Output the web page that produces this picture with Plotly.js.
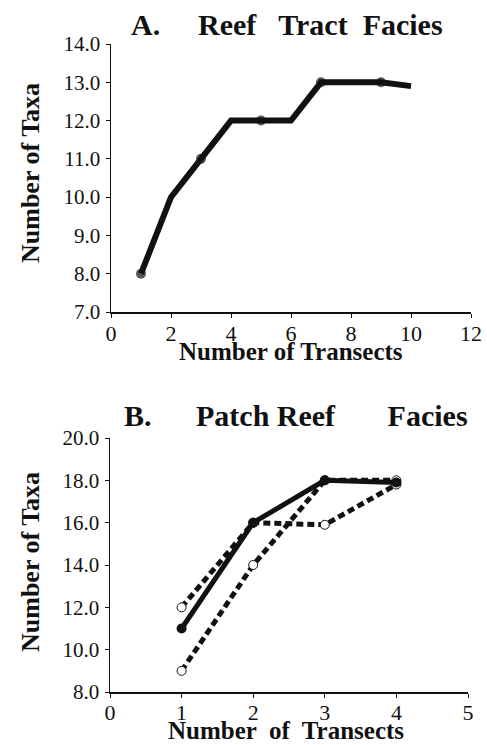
<!DOCTYPE html>
<html>
<head>
<meta charset="utf-8">
<script src="https://cdn.plot.ly/plotly-3.0.1.min.js"></script>
<style>
html,body{margin:0;padding:0;background:#fff;}
#chart{width:487px;height:745px;}
#chart svg text, #chart svg tspan{font-family:"Liberation Serif" !important;}
</style>
</head>
<body>
<div id="chart"></div>
<script>
// ---- Panel A: Reef Tract Facies ----
const reefTransects = [1, 2, 3, 4, 5, 6, 7, 8, 9, 10];
const reefTaxa      = [8, 10, 11, 12, 12, 12, 13, 13, 13, 12.9];

// ---- Panel B: Patch Reef Facies ----
const patchTransects = [1, 2, 3, 4];
const patchSolid     = [11, 16, 18, 17.9];
const patchDashUpper = [12, 16, 15.9, 17.8];
const patchDashLower = [9, 14, 18, 18];

const titleA = ["A.", "Reef   Tract  Facies"];
const titleB = ["B.", "Patch Reef       Facies"];
const yTitle = "Number of Taxa";
const xTitleA = "Number of Transects";
const xTitleB = "Number  of  Transects";

const W = 487, H = 745;
const px = v => v / W;
const py = v => 1 - v / H;
const ink = "#111";
const serif = "Liberation Serif";

const traces = [
  {
    x: reefTransects, y: reefTaxa, xaxis: "x", yaxis: "y",
    mode: "lines+markers",
    line: {color: ink, width: 6},
    marker: {color: ink, size: reefTransects.map((v, i) => (i % 2 === 0 ? 10 : 0)), line: {width: 0}},
    hoverinfo: "skip"
  },
  {
    x: patchTransects, y: patchDashUpper, xaxis: "x2", yaxis: "y2",
    mode: "lines+markers",
    line: {color: ink, width: 5, dash: "7px,4px"},
    marker: {color: "#fff", size: 9, line: {color: ink, width: 1}},
    hoverinfo: "skip"
  },
  {
    x: patchTransects, y: patchDashLower, xaxis: "x2", yaxis: "y2",
    mode: "lines+markers",
    line: {color: ink, width: 5, dash: "7px,4px"},
    marker: {color: "#fff", size: 9, line: {color: ink, width: 1}},
    hoverinfo: "skip"
  },
  {
    x: patchTransects, y: patchSolid, xaxis: "x2", yaxis: "y2",
    mode: "lines+markers",
    line: {color: ink, width: 5},
    marker: {color: ink, size: 10, line: {width: 0}},
    hoverinfo: "skip"
  }
];

const axisBase = {
  showgrid: false, zeroline: false, showline: true,
  linecolor: ink, linewidth: 1.5,
  ticks: "outside", ticklen: 4, tickwidth: 1, tickcolor: ink,
  fixedrange: true
};

const layout = {
  width: W, height: H,
  margin: {l: 0, r: 0, t: 0, b: 0},
  paper_bgcolor: "#fff", plot_bgcolor: "#fff",
  showlegend: false,
  font: {family: serif, color: ink},
  xaxis: Object.assign({}, axisBase, {
    domain: [px(111), px(471)], range: [0, 12], dtick: 2, tick0: 0,
    anchor: "y", tickfont: {family: serif, size: 22, color: ink},
    ticklabelstandoff: -3
  }),
  yaxis: Object.assign({}, axisBase, {
    domain: [py(312), py(44)], range: [7, 14], dtick: 1, tick0: 7,
    anchor: "x", tickformat: ".1f", tickfont: {family: serif, size: 21, color: ink},
    ticklabelstandoff: 1
  }),
  xaxis2: Object.assign({}, axisBase, {
    domain: [px(110), px(468)], range: [0, 5], dtick: 1, tick0: 0,
    anchor: "y2", tickfont: {family: serif, size: 22, color: ink},
    ticklabelstandoff: -4
  }),
  yaxis2: Object.assign({}, axisBase, {
    domain: [py(692), py(438)], range: [8, 20], dtick: 2, tick0: 8,
    anchor: "x2", tickformat: ".1f", tickfont: {family: serif, size: 21, color: ink},
    ticklabelstandoff: 1
  }),
  annotations: [
    {text: "<b>" + titleA[0] + "</b>", x: px(129), y: py(25), xanchor: "left", yanchor: "middle"},
    {text: "<b>" + titleA[1] + "</b>", x: px(196), y: py(25), xanchor: "left", yanchor: "middle"},
    {text: "<b>" + titleB[0] + "</b>", x: px(122), y: py(415), xanchor: "left", yanchor: "middle"},
    {text: "<b>" + titleB[1] + "</b>", x: px(194), y: py(415), xanchor: "left", yanchor: "middle"},
    {text: "<b>" + yTitle + "</b>", x: px(30), y: py(173), textangle: -90, xanchor: "center", yanchor: "middle", font: {family: serif, size: 26, color: ink}},
    {text: "<b>" + yTitle + "</b>", x: px(30), y: py(562), textangle: -90, xanchor: "center", yanchor: "middle", font: {family: serif, size: 26, color: ink}},
    {text: "<b>" + xTitleA + "</b>", x: px(291), y: py(351), xanchor: "center", yanchor: "middle", font: {family: serif, size: 25, color: ink}},
    {text: "<b>" + xTitleB + "</b>", x: px(286), y: py(730), xanchor: "center", yanchor: "middle", font: {family: serif, size: 25, color: ink}}
  ].map(a => Object.assign({xref: "paper", yref: "paper", showarrow: false,
    font: {family: serif, size: 30, color: ink}}, a))
};

Plotly.newPlot("chart", traces, layout, {staticPlot: true, displayModeBar: false});
</script>
</body>
</html>
